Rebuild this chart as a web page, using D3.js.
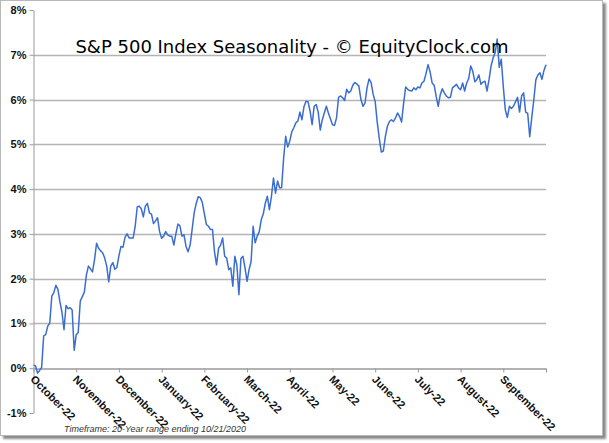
<!DOCTYPE html>
<html>
<head>
<meta charset="utf-8">
<script src="https://cdn.jsdelivr.net/npm/d3@7"></script>
<style>
    body { margin: 0; background: #fff; }
</style>
</head>
<body>
<div id="chart"></div>
<script>
// month labels along the bottom (ticks sit at month boundaries)
const months = ["October-22", "November-22", "December-22", "January-22", "February-22", "March-22",
    "April-22", "May-22", "June-22", "July-22", "August-22", "September-22"];
// y axis ticks, in percent
const yTicks = [-1, 0, 1, 2, 3, 4, 5, 6, 7, 8];
const gridTicks = [1, 2, 3, 4, 5, 6, 7];
// average cumulative return (%) by trading day
const values = [
    0.07, 0.05, -0.11, -0.05, 0.02, 0.72, 0.75, 0.94, 1.01, 1.61,
    1.69, 1.85, 1.76, 1.48, 1.25, 0.86, 1.40, 1.33, 1.35, 1.30,
    0.40, 0.75, 0.80, 1.50, 1.60, 1.70, 2.08, 2.28, 2.22, 2.15,
    2.42, 2.79, 2.68, 2.62, 2.58, 2.46, 2.28, 1.93, 2.28, 2.36,
    2.21, 2.25, 2.51, 2.72, 2.70, 2.92, 3.00, 2.91, 2.91, 2.91,
    3.17, 3.60, 3.62, 3.56, 3.38, 3.62, 3.68, 3.47, 3.44, 3.23,
    3.29, 3.36, 3.05, 2.90, 2.95, 3.05, 2.98, 2.95, 2.95, 2.75,
    3.00, 3.22, 3.18, 2.95, 2.98, 2.72, 2.60, 2.75, 3.10, 3.47,
    3.68, 3.83, 3.81, 3.70, 3.45, 3.21, 3.17, 3.10, 3.10, 2.60,
    2.31, 2.68, 2.75, 2.91, 2.50, 2.46, 2.20, 2.24, 1.83, 2.50,
    2.30, 1.64, 2.45, 2.50, 2.24, 1.94, 2.20, 2.39, 3.17, 2.80,
    2.95, 3.05, 3.32, 3.45, 3.69, 3.84, 3.54, 3.84, 4.25, 3.91,
    4.18, 4.03, 4.03, 4.70, 5.18, 4.94, 5.07, 5.28, 5.37, 5.48,
    5.52, 5.72, 5.55, 5.84, 5.96, 5.95, 5.74, 5.44, 5.85, 5.89,
    5.72, 5.32, 5.55, 5.70, 5.85, 5.70, 5.57, 5.44, 5.42, 5.59,
    6.05, 6.08, 6.04, 5.98, 6.23, 6.15, 6.19, 6.32, 6.38, 6.35,
    6.30, 6.00, 5.85, 5.92, 6.26, 6.46, 6.38, 6.12, 5.96, 5.50,
    5.14, 4.83, 4.85, 5.17, 5.40, 5.51, 5.55, 5.51, 5.59, 5.70,
    5.62, 5.50, 5.92, 6.28, 6.23, 6.20, 6.19, 6.26, 6.22, 6.28,
    6.26, 6.37, 6.41, 6.58, 6.78, 6.62, 6.37, 6.32, 6.07, 5.85,
    6.11, 6.24, 6.15, 6.08, 6.04, 6.05, 6.26, 6.30, 6.34, 6.26,
    6.22, 6.37, 6.19, 6.37, 6.47, 6.75, 6.63, 6.40, 6.45, 6.55,
    6.34, 6.39, 6.41, 6.19, 6.45, 6.75, 6.93, 7.05, 7.35, 6.72,
    6.90, 6.29, 5.77, 5.60, 5.85, 5.80, 5.85, 5.95, 6.05, 5.72,
    6.08, 6.15, 5.72, 5.69, 5.17, 5.60, 5.99, 6.44, 6.55, 6.60,
    6.45, 6.65, 6.78
];

function init() {
    let width = 609;
    let height = 443;
    let svg = d3.select("#chart")
        .append("svg")
        .attr("width", width)
        .attr("height", height);

    // frame with a soft drop shadow
    svg.append("defs").append("filter").attr("id", "shadow")
        .append("feGaussianBlur").attr("stdDeviation", 1.2);
    svg.append("rect")
        .attr("x", 3).attr("y", 3).attr("width", 603).attr("height", 436)
        .attr("fill", "#8a8a8a").attr("filter", "url(#shadow)");
    svg.append("rect")
        .attr("x", 0.5).attr("y", 0.5).attr("width", 602).attr("height", 435)
        .attr("fill", "#fff").attr("stroke", "#b8b8b8");

    let xScale = d3.scaleLinear().domain([0, values.length - 1]).range([33.5, 546]);
    let mScale = d3.scaleLinear().domain([0, months.length]).range([33.5, 546]);
    let yScale = d3.scaleLinear().domain([-1, 8]).range([413, 10]);

    // horizontal gridlines
    svg.append("g")
        .selectAll("line")
        .data(gridTicks)
        .enter().append("line")
        .attr("x1", 33.5).attr("x2", 546)
        .attr("y1", d => Math.round(yScale(d)) + 0.5)
        .attr("y2", d => Math.round(yScale(d)) + 0.5)
        .attr("stroke", "#b4b4b4")
        .attr("stroke-width", 1.3);

    // y axis
    let yAxis = svg.append("g")
        .attr("transform", "translate(33.5,0)")
        .call(d3.axisLeft(yScale).tickValues(yTicks).tickFormat(d => d + "%").tickSize(4).tickSizeOuter(0));
    yAxis.select(".domain").attr("stroke", "#9a9a9a");
    yAxis.selectAll(".tick line").attr("stroke", "#9a9a9a");
    yAxis.selectAll(".tick text")
        .attr("x", -7)
        .style("font-family", "Liberation Sans, Arial, sans-serif")
        .style("font-size", "11px")
        .style("font-weight", "bold")
        .attr("fill", "#111");

    // x axis along 0%
    let xAxis = svg.append("g")
        .attr("transform", "translate(0," + (Math.round(yScale(0)) + 0.5) + ")")
        .call(d3.axisBottom(mScale).tickValues(d3.range(months.length + 1)).tickFormat("").tickSize(4).tickSizeOuter(0));
    xAxis.select(".domain").attr("stroke", "#9a9a9a").attr("stroke-width", 1.3);
    xAxis.selectAll(".tick line").attr("stroke", "#9a9a9a");

    svg.append("g")
        .selectAll("text")
        .data(months)
        .enter().append("text")
        .attr("transform", (d, i) => "translate(" + (mScale(i) + 2) + "," + (yScale(0) + 6) + ") rotate(45)")
        .attr("dy", "0.75em")
        .style("font-family", "Liberation Sans, Arial, sans-serif")
        .style("font-size", "11px")
        .style("font-weight", "bold")
        .attr("fill", "#111")
        .text(d => d);

    // seasonal line
    svg.append("path")
        .datum(values)
        .attr("fill", "none")
        .attr("stroke", "#3b6dd0")
        .attr("stroke-width", 1.5)
        .attr("stroke-linejoin", "round")
        .attr("d", d3.line()
            .x((d, i) => xScale(i))
            .y(d => yScale(d)));

    // title
    svg.append("text")
        .attr("x", 292)
        .attr("y", 53)
        .attr("text-anchor", "middle")
        .style("font-family", "DejaVu Sans, Verdana, sans-serif")
        .style("font-size", "18px")
        .attr("fill", "#000")
        .text("S&P 500 Index Seasonality - \u00a9 EquityClock.com");

    // footnote
    svg.append("text")
        .attr("x", 64)
        .attr("y", 432)
        .style("font-family", "Liberation Sans, Arial, sans-serif")
        .style("font-size", "9px")
        .style("font-style", "italic")
        .attr("fill", "#333")
        .text("Timeframe: 20-Year range ending 10/21/2020");
}

window.addEventListener('load', init);
</script>
</body>
</html>
